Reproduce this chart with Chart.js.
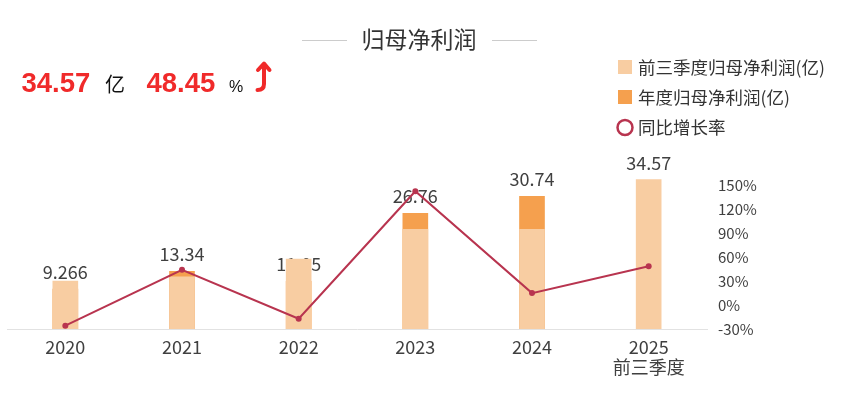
<!DOCTYPE html>
<html><head><meta charset="utf-8">
<script src="https://cdn.jsdelivr.net/npm/chart.js@4/dist/chart.umd.min.js"></script>
<style>
html,body{margin:0;padding:0;background:#fff;}
#wrap{position:relative;width:846px;height:395px;overflow:hidden;}
#c{position:absolute;left:0;top:0;}
</style></head><body>
<div id="wrap"><canvas id="c" width="846" height="395"></canvas></div>
<script>
// ---- data ----
const categories = ['2020','2021','2022','2023','2024',['2025','前三季度']];
const q3Profit = [11.1, 12.1, 16.2, 23.1, 23.1, 34.57];        // 前三季度归母净利润(亿)
const annualProfit = [9.266, 13.34, 11.05, 26.76, 30.74, null]; // 年度归母净利润(亿)
const yoyGrowth = [-25.9, 43.97, -17.17, 142.17, 14.87, 48.45]; // 同比增长率(%)
const rightTicks = [-30, 0, 30, 60, 90, 120, 150];
const titleText = '归母净利润';
const legendLabels = ['前三季度归母净利润(亿)', '年度归母净利润(亿)', '同比增长率'];
const headline = { value: '34.57', unit: '亿', pct: '48.45', pctUnit: '%' };

const FONT = '"Noto Sans CJK SC","Noto Sans",sans-serif';
const C_PEACH = '#F8CDA2';
const C_ORANGE = '#F5A04E';
const C_LINE = '#B8344F';
const C_RED = '#F02A2A';
const C_TEXT = '#404040';

// value labels are drawn right after the annual bars, so the Q1-3 bars and the line lie over them
const valueLabels = {
  id: 'valueLabels',
  afterDatasetDraw(chart, args) {
    if (args.index !== 1) return;
    const ctx = chart.ctx, xs = chart.scales.x, ys = chart.scales.y;
    ctx.save();
    ctx.font = '18px ' + FONT;
    ctx.fillStyle = C_TEXT;
    ctx.textAlign = 'center';
    ctx.textBaseline = 'alphabetic';
    categories.forEach((c, i) => {
      const v = annualProfit[i] != null ? annualProfit[i] : q3Profit[i];
      ctx.fillText(String(v), xs.getPixelForValue(i), ys.getPixelForValue(v) - 10);
    });
    ctx.restore();
  }
};

const decor = {
  id: 'decor',
  afterDraw(chart) {
    const ctx = chart.ctx;
    ctx.save();
    // title
    ctx.font = '23px ' + FONT;
    ctx.fillStyle = '#333';
    ctx.textAlign = 'center';
    ctx.textBaseline = 'middle';
    ctx.fillText(titleText, 419, 39);
    ctx.strokeStyle = '#cccccc';
    ctx.lineWidth = 1;
    ctx.beginPath();
    ctx.moveTo(302, 40.5); ctx.lineTo(347, 40.5);
    ctx.moveTo(492, 40.5); ctx.lineTo(537, 40.5);
    ctx.stroke();

    // headline
    ctx.textAlign = 'left';
    ctx.textBaseline = 'alphabetic';
    ctx.font = 'bold 27.5px "Liberation Sans",Arial,sans-serif';
    ctx.fillStyle = C_RED;
    ctx.fillText(headline.value, 21.5, 92);
    ctx.fillText(headline.pct, 146.5, 92);
    ctx.font = '20px ' + FONT;
    ctx.fillStyle = '#111';
    ctx.fillText(headline.unit, 105, 92);
    ctx.font = '16px "Liberation Sans Narrow","Liberation Sans",sans-serif';
    ctx.fillText(headline.pctUnit, 229, 92);
    // arrow icon
    ctx.strokeStyle = C_RED;
    ctx.lineWidth = 4;
    ctx.lineCap = 'round';
    ctx.lineJoin = 'round';
    ctx.beginPath();
    ctx.moveTo(264, 66); ctx.lineTo(264, 84);
    ctx.quadraticCurveTo(264, 90, 257.5, 90);
    ctx.moveTo(258, 70); ctx.lineTo(264, 63.5); ctx.lineTo(269.5, 70);
    ctx.stroke();

    // legend
    ctx.font = '17.5px ' + FONT;
    ctx.textBaseline = 'middle';
    ctx.fillStyle = C_PEACH;
    ctx.fillRect(618, 60, 14, 14);
    ctx.fillStyle = C_ORANGE;
    ctx.fillRect(618, 90, 14, 14);
    ctx.strokeStyle = C_LINE;
    ctx.lineWidth = 2.5;
    ctx.beginPath();
    ctx.arc(625, 127.5, 7.5, 0, Math.PI * 2);
    ctx.stroke();
    ctx.fillStyle = '#333';
    ctx.fillText(legendLabels[0], 638, 67);
    ctx.fillText(legendLabels[1], 638, 97);
    ctx.fillText(legendLabels[2], 638, 127);
    ctx.restore();
  }
};

new Chart(document.getElementById('c'), {
  data: {
    labels: categories,
    datasets: [
      { type: 'bar', label: legendLabels[0], data: q3Profit, backgroundColor: C_PEACH,
        barThickness: 25, grouped: false, order: 1, yAxisID: 'y' },
      { type: 'bar', label: legendLabels[1], data: annualProfit, backgroundColor: C_ORANGE,
        barThickness: 25, grouped: false, order: 2, yAxisID: 'y' },
      { type: 'line', label: legendLabels[2], data: yoyGrowth, borderColor: C_LINE, backgroundColor: C_LINE,
        borderWidth: 2, pointRadius: 3, pointBorderWidth: 0, pointBackgroundColor: C_LINE,
        tension: 0, order: 0, yAxisID: 'y1' }
    ]
  },
  options: {
    responsive: false,
    animation: false,
    devicePixelRatio: 1,
    layout: { padding: { top: 161, left: 7, right: 0, bottom: 0 } },
    plugins: { legend: { display: false }, tooltip: { enabled: false }, title: { display: false } },
    scales: {
      x: {
        grid: { display: false, drawTicks: false },
        border: { display: true, color: '#e2e2e2', width: 1 },
        ticks: { font: { size: 18, family: FONT, lineHeight: 1.111 }, color: C_TEXT, padding: 8,
                 maxRotation: 0, autoSkip: false },
        afterFit(s) { s.height = 66; }
      },
      y: { display: false, min: 0, max: 38.9 },
      y1: {
        position: 'right', min: -30, max: 180,
        grid: { display: false, drawTicks: false },
        border: { display: false },
        afterBuildTicks(s) { s.ticks = rightTicks.map(v => ({ value: v })); },
        ticks: { font: { size: 15, family: FONT }, color: C_TEXT, padding: 11,
                 callback: v => v + '%' },
        afterFit(s) { s.width = 139; }
      }
    }
  },
  plugins: [valueLabels, decor]
});
</script>
</body></html>
